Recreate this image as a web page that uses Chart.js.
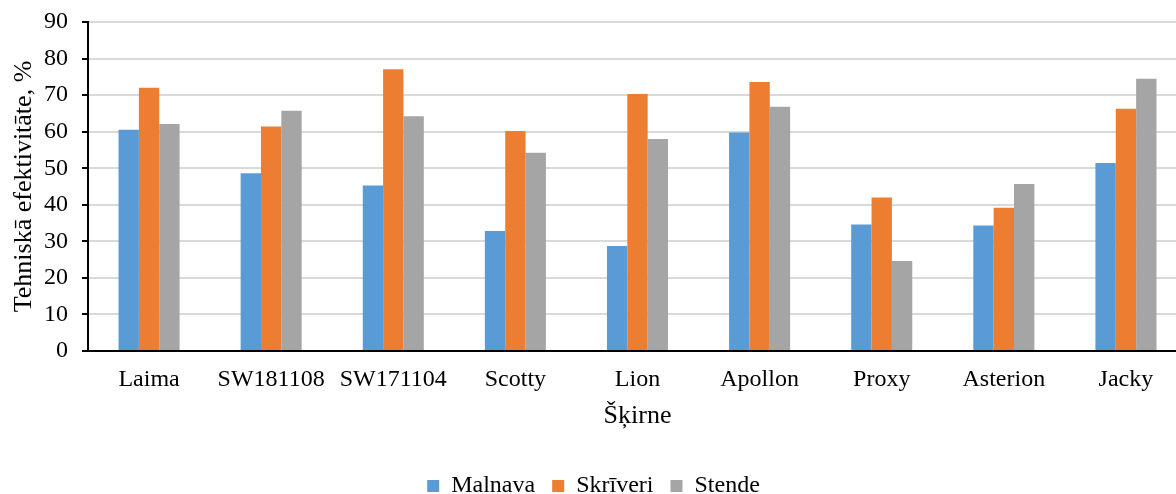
<!DOCTYPE html>
<html>
<head>
<meta charset="utf-8">
<script src="https://cdn.jsdelivr.net/npm/chart.js@4.4.1/dist/chart.umd.min.js"></script>
<style>
  html, body { margin: 0; padding: 0; background: #fff; overflow: hidden; }
  #wrap { width: 1196px; height: 494px; position: relative; }
</style>
</head>
<body>
<div id="wrap"><canvas id="c"></canvas></div>
<script>
// Šķirnes (varieties) on the category axis
const categories = ['Laima', 'SW181108', 'SW171104', 'Scotty', 'Lion', 'Apollon', 'Proxy', 'Asterion', 'Jacky'];

// Technical efficiency, % per location
const malnava  = [60.5, 48.6, 45.3, 32.8, 28.7, 59.8, 34.6, 34.3, 51.4];
const skriveri = [72.0, 61.4, 77.1, 60.2, 70.3, 73.6, 42.0, 39.2, 66.3];
const stende   = [62.1, 65.7, 64.2, 54.2, 58.0, 66.8, 24.6, 45.7, 74.5];

const yTicks = [0, 10, 20, 30, 40, 50, 60, 70, 80, 90];

const serif = "'Liberation Serif', 'Times New Roman', serif";

new Chart(document.getElementById('c'), {
  type: 'bar',
  data: {
    labels: categories,
    datasets: [
      { label: 'Malnava',  data: malnava,  backgroundColor: '#5B9BD5' },
      { label: 'Skrīveri', data: skriveri, backgroundColor: '#ED7D31' },
      { label: 'Stende',   data: stende,   backgroundColor: '#A5A5A5' }
    ]
  },
  options: {
    responsive: true,
    maintainAspectRatio: false,
    animation: false,
    layout: { padding: { top: 22, right: 9, left: 0, bottom: -14 } },
    datasets: { bar: { categoryPercentage: 0.5, barPercentage: 1.0 } },
    plugins: {
      legend: {
        position: 'bottom',
        labels: {
          font: { family: serif, size: 24 },
          color: '#000',
          boxWidth: 12,
          boxHeight: 12,
          padding: 17
        }
      },
      tooltip: { enabled: false }
    },
    scales: {
      x: {
        afterFit: (axis) => { axis.height = 106; },
        grid: { display: false, drawTicks: false },
        border: { color: '#000', width: 2 },
        ticks: { font: { family: serif, size: 24 }, color: '#000', padding: 14, maxRotation: 0, autoSkip: false },
        title: {
          display: true,
          text: 'Šķirne',
          font: { family: serif, size: 26 },
          color: '#000',
          padding: { top: 6, bottom: 25 }
        }
      },
      y: {
        min: 0,
        max: 90,
        afterFit: (axis) => { axis.width = 88; axis.paddingTop = 0; axis.paddingBottom = 0; },
        afterBuildTicks: (axis) => { axis.ticks = yTicks.map(v => ({ value: v })); },
        grid: { color: '#d9d9d9', lineWidth: 2, tickLength: 6, tickColor: '#000' },
        border: { color: '#000', width: 2 },
        ticks: { font: { family: serif, size: 24 }, color: '#000', padding: 14 },
        title: {
          display: true,
          text: 'Tehniskā efektivitāte, %',
          font: { family: serif, size: 26 },
          color: '#000',
          padding: { top: 9, bottom: 0 }
        }
      }
    }
  }
});
</script>
</body>
</html>
